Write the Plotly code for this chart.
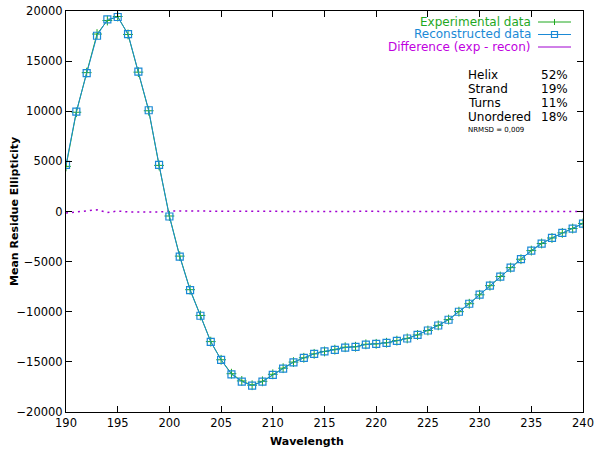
import plotly.graph_objects as go

# CD spectrum, 190-240 nm at 1 nm steps
wavelength = list(range(190, 241))

experimental = [
    4500, 9900, 13850, 17700, 19050, 19450, 17660, 13900, 10050, 4600,
    -450, -4450, -7800, -10370, -12980, -14790, -16180, -16900, -17330, -16940,
    -16240, -15630, -15020, -14590, -14200, -13960, -13780, -13540, -13490, -13250,
    -13200, -13090, -12880, -12660, -12310, -11870, -11360, -10780, -9990, -9200,
    -8310, -7400, -6490, -5600, -4760, -3900, -3190, -2640, -2130, -1700, -1190,
]
reconstructed = [
    4650, 9960, 13800, 17530, 19160, 19400, 17700, 13960, 10100, 4660,
    -500, -4500, -7840, -10400, -13000, -14800, -16240, -16970, -17370, -16970,
    -16300, -15670, -15040, -14600, -14200, -13950, -13800, -13570, -13500, -13270,
    -13200, -13100, -12900, -12670, -12300, -11870, -11370, -10800, -10000, -9200,
    -8300, -7400, -6500, -5600, -4750, -3900, -3200, -2640, -2140, -1700, -1200,
]
difference = [
    -150, -60, 50, 170, -110, 50, -40, -60, -50, -60,
    50, 50, 40, 30, 20, 10, 60, 70, 40, 30,
    60, 40, 20, 10, 0, -10, 20, 30, 10, 20,
    0, 10, 20, 10, -10, 0, 10, 20, 10, 0,
    -10, 0, 10, 0, -10, 0, 10, 0, 10, 0, 10,
]

series_names = ["Experimental data", "Reconstructed data", "Difference (exp - recon)"]
structure = ["Helix", "Strand", "Turns", "Unordered"]
fractions = ["52%", "19%", "11%", "18%"]
nrmsd_text = "NRMSD = 0,009"

GREEN = "#1fa81f"
BLUE = "#1b8ad6"
PURPLE = "#a000d0"
FONT = "DejaVu Sans"

# plot-area geometry in pixels (600x450 canvas)
L, R, T, B = 66, 583, 11, 412


def px(x):
    return (x - L) / (R - L)


def py(y):
    return (B - y) / (B - T)


fig = go.Figure()
fig.add_trace(go.Scatter(
    x=wavelength, y=difference, mode="lines",
    line={"color": PURPLE, "width": 1.5, "dash": "2px,4px"},
    showlegend=False, hoverinfo="skip",
))
fig.add_trace(go.Scatter(
    x=wavelength, y=experimental, mode="lines+markers",
    line={"color": GREEN, "width": 1},
    marker={"symbol": "cross-thin", "size": 7, "line": {"color": GREEN, "width": 1}},
    showlegend=False,
))
fig.add_trace(go.Scatter(
    x=wavelength, y=reconstructed, mode="lines+markers",
    line={"color": BLUE, "width": 1},
    marker={"symbol": "square-open", "size": 7, "color": BLUE, "line": {"width": 1.2}},
    showlegend=False,
))

axis_common = dict(
    showline=True, linecolor="black", linewidth=1, mirror="ticks",
    ticks="inside", ticklen=6, tickcolor="black", showgrid=False, zeroline=False,
    automargin=False,
    tickfont={"family": FONT, "size": 11.5, "color": "black"},
)
fig.update_xaxes(range=[190, 240], dtick=5, **axis_common)
fig.update_yaxes(range=[-20000, 20000], dtick=5000, tickformat="d", **axis_common)

annotations = []
shapes = []

# legend, gnuplot style: right-aligned text, sample to the right
legend_rows = [22, 34.5, 47]
legend_colors = [GREEN, BLUE, "#c000e0"]
for name, yrow, col in zip(series_names, legend_rows, legend_colors):
    annotations.append(dict(
        x=px(532), y=py(yrow), xref="paper", yref="paper", text=name,
        xanchor="right", yanchor="middle", showarrow=False, borderpad=0,
        font={"family": FONT, "size": 12, "color": col},
    ))
sample_cols = [GREEN, BLUE, PURPLE]
for yrow, col in zip(legend_rows, sample_cols):
    shapes.append(dict(type="line", xref="paper", yref="paper",
                       x0=px(538), x1=px(571), y0=py(yrow), y1=py(yrow),
                       line={"color": col, "width": 1}))
shapes.append(dict(type="line", xref="paper", yref="paper",
                   x0=px(554.5), x1=px(554.5), y0=py(legend_rows[0] - 3),
                   y1=py(legend_rows[0] + 3), line={"color": GREEN, "width": 1}))
shapes.append(dict(type="rect", xref="paper", yref="paper",
                   x0=px(551.5), x1=px(557.5), y0=py(legend_rows[1] - 3),
                   y1=py(legend_rows[1] + 3), line={"color": BLUE, "width": 1.2}))

# secondary-structure estimate
for i, (lab, val) in enumerate(zip(structure, fractions)):
    yrow = 75 + 14 * i
    annotations.append(dict(
        x=px(467), y=py(yrow), xref="paper", yref="paper", text=lab,
        xanchor="left", yanchor="middle", showarrow=False, borderpad=0,
        font={"family": FONT, "size": 12, "color": "black"},
    ))
    annotations.append(dict(
        x=px(540), y=py(yrow), xref="paper", yref="paper", text=val,
        xanchor="left", yanchor="middle", showarrow=False, borderpad=0,
        font={"family": FONT, "size": 12, "color": "black"},
    ))
annotations.append(dict(
    x=px(467), y=py(130), xref="paper", yref="paper", text=nrmsd_text,
    xanchor="left", yanchor="middle", showarrow=False, borderpad=0,
    font={"family": FONT, "size": 7, "color": "black"},
))

# axis titles
annotations.append(dict(
    x=px(307), y=py(441), xref="paper", yref="paper", text="<b>Wavelength</b>",
    xanchor="center", yanchor="middle", showarrow=False,
    font={"family": FONT, "size": 11, "color": "black"},
))
annotations.append(dict(
    x=px(14), y=py(212), xref="paper", yref="paper",
    text="<b>Mean Residue Ellipticity</b>", textangle=-90,
    xanchor="center", yanchor="middle", showarrow=False,
    font={"family": FONT, "size": 11, "color": "black"},
))

fig.update_layout(
    width=600, height=450,
    margin={"l": L, "r": 600 - R, "t": T, "b": 450 - B, "pad": 0},
    plot_bgcolor="white", paper_bgcolor="white",
    annotations=annotations, shapes=shapes,
    showlegend=False,
)

# the page's default body margin would shift the 600x450 figure off the window
fig.write_html("out.html", config={"displayModeBar": False},
               post_script="document.body.style.margin='0';")
